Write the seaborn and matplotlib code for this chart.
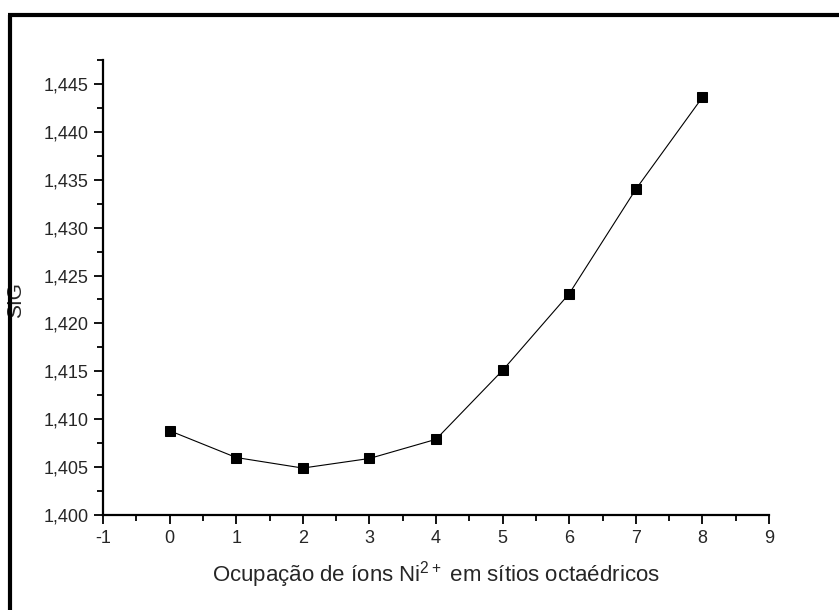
import numpy as np
import pandas as pd
import seaborn as sns
import matplotlib.pyplot as plt
from matplotlib.lines import Line2D
from matplotlib.ticker import FuncFormatter, MultipleLocator

# Data
ocupacao = [0, 1, 2, 3, 4, 5, 6, 7, 8]
sig = [1.4088, 1.4060, 1.4049, 1.4059, 1.4079, 1.4151, 1.4231, 1.4340, 1.4436]
x_ticks = [-1, 0, 1, 2, 3, 4, 5, 6, 7, 8, 9]
y_ticks = [1.400, 1.405, 1.410, 1.415, 1.420, 1.425, 1.430, 1.435, 1.440, 1.445]

df = pd.DataFrame({"ocupacao": ocupacao, "sig": sig})

sns.set_style("ticks")
plt.rcParams["font.family"] = ["Liberation Sans", "DejaVu Sans"]
plt.rcParams["mathtext.fontset"] = "custom"
plt.rcParams["mathtext.rm"] = "Liberation Sans"
plt.rcParams["mathtext.it"] = "Liberation Sans"
plt.rcParams["axes.unicode_minus"] = False

fig = plt.figure(figsize=(8.39, 6.10), dpi=100)
ax = fig.add_axes([103 / 839, 1 - 515 / 610, 666 / 839, 455 / 610])

sns.lineplot(
    data=df, x="ocupacao", y="sig", ax=ax,
    color="black", linewidth=0.8, marker="s", markersize=6.5,
    markerfacecolor="black", markeredgecolor="black",
)

ax.set_xlim(-1, 9)
ax.set_ylim(1.400, 1.4475)
ax.set_xticks(x_ticks)
ax.set_yticks(y_ticks)
ax.xaxis.set_minor_locator(MultipleLocator(0.5))
ax.yaxis.set_minor_locator(MultipleLocator(0.0025))
ax.xaxis.set_major_formatter(FuncFormatter(lambda v, p: f"{v:.0f}"))
ax.yaxis.set_major_formatter(FuncFormatter(lambda v, p: f"{v:.3f}".replace(".", ",")))

ax.tick_params(which="major", direction="out", length=6.5, width=1.3, labelsize=13, pad=4, color="black")
ax.tick_params(which="minor", direction="out", length=4, width=1.3, color="black")

sns.despine(ax=ax)
for side in ["left", "bottom"]:
    ax.spines[side].set_linewidth(1.6)
    ax.spines[side].set_color("black")

ax.set_xlabel("Ocupação de íons Ni$^{2+}$ em sítios octaédricos", fontsize=16, labelpad=9)
ax.set_ylabel("SIG", fontsize=15)
ax.yaxis.set_label_coords(-0.117, 0.4725)

# page frame lines (left and top)
fig.add_artist(Line2D([10 / 839, 10 / 839], [0, 1 - 15 / 610], transform=fig.transFigure,
                      color="black", linewidth=3, solid_capstyle="butt"))
fig.add_artist(Line2D([8 / 839, 1], [1 - 15 / 610, 1 - 15 / 610], transform=fig.transFigure,
                      color="black", linewidth=3, solid_capstyle="butt"))

fig.savefig("out.png", dpi=100)
plt.close(fig)
